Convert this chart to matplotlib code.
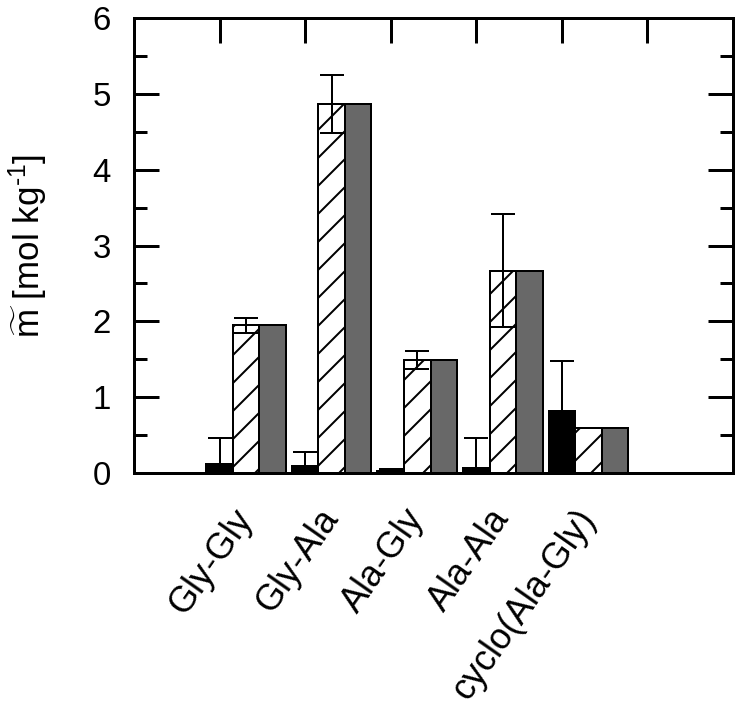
import matplotlib
matplotlib.use("Agg")
import matplotlib.pyplot as plt
import numpy as np

categories = ['Gly-Gly', 'Gly-Ala', 'Ala-Gly', 'Ala-Ala', 'cyclo(Ala-Gly)']
black_vals = [0.12, 0.09, 0.02, 0.06, 0.82]
black_err = [0.34, 0.19, 0.03, 0.40, 0.66]
hatched_vals = [1.95, 4.87, 1.49, 2.67, 0.59]
hatched_err = [0.10, 0.38, 0.12, 0.75, 0.0]
gray_vals = [1.95, 4.87, 1.49, 2.67, 0.59]
y_ticks = [0, 1, 2, 3, 4, 5, 6]

DPI = 168
PX = 72.0 / DPI  # points per pixel

plt.rcParams['font.family'] = ['Liberation Sans', 'DejaVu Sans']
plt.rcParams['mathtext.fontset'] = 'custom'
plt.rcParams['mathtext.rm'] = 'Liberation Sans'
plt.rcParams['mathtext.it'] = 'Liberation Sans:italic'
plt.rcParams['hatch.linewidth'] = 2.0 * PX

fig = plt.figure(figsize=(738 / DPI, 718 / DPI), dpi=DPI)
ax = fig.add_axes([134 / 738, 1 - 473 / 718, (733 - 134) / 738, (473 - 18) / 718])

x = np.arange(1, len(categories) + 1)
w = 0.31
lw = 2.0 * PX

ax.bar(x, black_vals, w, color='black', edgecolor='black', linewidth=lw, zorder=2)
ax.bar(x + w, hatched_vals, w, color='white', edgecolor='black', hatch='//', linewidth=lw, zorder=2)
ax.bar(x + 2 * w, gray_vals, w, color='#686868', edgecolor='black', linewidth=lw, zorder=2)

ax.errorbar(x, black_vals, yerr=[np.zeros(len(x)), black_err], fmt='none',
            ecolor='black', elinewidth=lw, capsize=12.5 * PX, capthick=lw, zorder=3)
ax.errorbar(x + w, hatched_vals, yerr=hatched_err, fmt='none',
            ecolor='black', elinewidth=lw, capsize=12.5 * PX, capthick=lw, zorder=3)

ax.set_xlim(0, 7)
ax.set_ylim(0, 6)

ax.set_yticks(y_ticks)
ax.set_yticks(np.arange(0.5, 6, 1.0), minor=True)
ax.tick_params(axis='y', which='major', direction='in', length=25 * PX, width=3 * PX,
               right=True, labelsize=33 * PX, pad=23 * PX)
ax.tick_params(axis='y', which='minor', direction='in', length=13 * PX, width=3 * PX, right=True)

ax.set_xticks(x + w)
ax.set_xticklabels(categories, rotation=55, ha='right', rotation_mode='anchor', va='center')
ax.set_xticks(np.arange(1, 7), minor=True)
ax.tick_params(axis='x', which='major', length=0, labelsize=36 * PX, pad=40 * PX)
ax.tick_params(axis='x', which='minor', direction='in', length=25 * PX, width=3 * PX,
               top=True, bottom=False)

for s in ax.spines.values():
    s.set_linewidth(3 * PX)

ax.set_ylabel(r'$\widetilde{\mathrm{m}}$ [mol kg$^{\text{-}1}$]', fontsize=35 * PX, labelpad=43 * PX)

fig.savefig('out.png', dpi=DPI)
